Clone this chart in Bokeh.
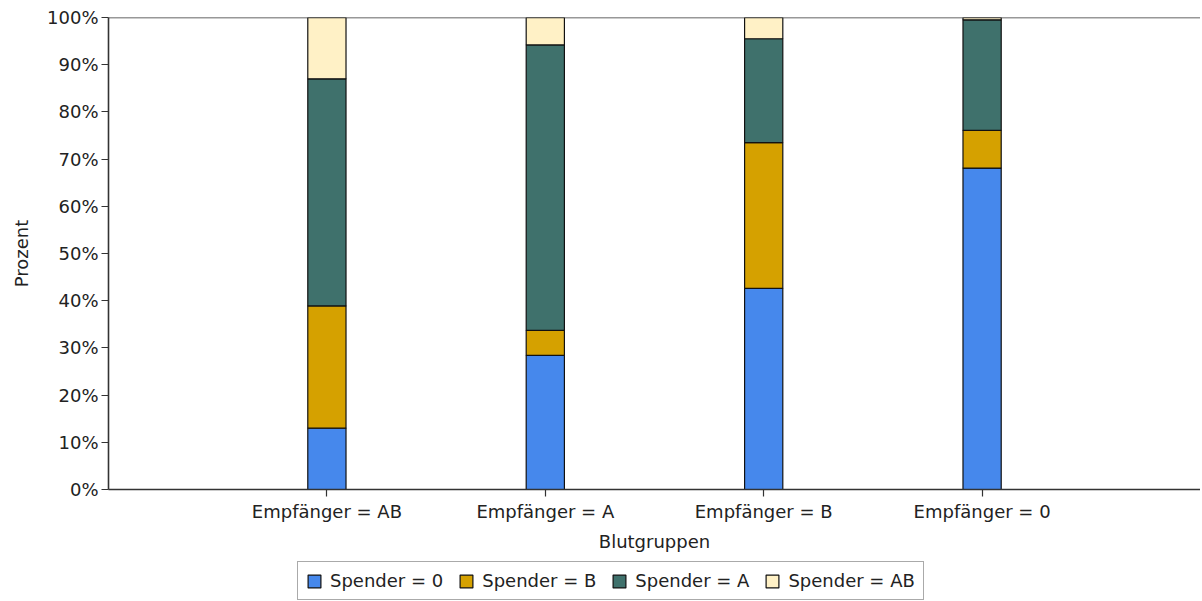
from bokeh.plotting import figure
from bokeh.layouts import column
from bokeh.models import (FactorRange, Legend, LegendItem, PrintfTickFormatter,
                          FixedTicker, Span, Range1d)
from bokeh.embed import file_html
from bokeh.resources import INLINE

# ---- data ----
empfaenger = ["Empfänger = AB", "Empfänger = A", "Empfänger = B", "Empfänger = 0"]
spender_0 = [13.0, 28.4, 42.6, 68.1]
spender_B = [25.9, 5.3, 30.9, 8.0]
spender_A = [48.1, 60.5, 22.0, 23.4]
spender_AB = [13.0, 5.8, 4.5, 0.5]
series_names = ["Spender = 0", "Spender = B", "Spender = A", "Spender = AB"]
series_keys = ["s0", "sB", "sA", "sAB"]
colors = ["#4688EC", "#D5A100", "#3F716C", "#FFF1C6"]
y_ticks = [0, 10, 20, 30, 40, 50, 60, 70, 80, 90, 100]

FONT = "DejaVu Sans"
FS = "18px"
data = dict(x=empfaenger, s0=spender_0, sB=spender_B, sA=spender_A, sAB=spender_AB)

p = figure(x_range=FactorRange(*empfaenger, range_padding=0.25, range_padding_units="percent"),
           y_range=Range1d(0, 100),
           width=1200, height=558, output_backend="svg", toolbar_location=None,
           min_border_left=108, min_border_right=0, min_border_top=17, min_border_bottom=69)

p.vbar_stack(series_keys, x="x", width=0.175, source=data,
             fill_color=colors, line_color="#111111", line_width=1.2)

p.xgrid.visible = False
p.ygrid.visible = False
p.outline_line_color = None
p.background_fill_color = "white"
p.border_fill_color = "white"

top_line = Span(location=100, dimension="width", line_color="#333333", line_width=1.6)
p.add_layout(top_line)

for ax in (p.xaxis[0], p.yaxis[0]):
    ax.axis_line_color = "#333333"
    ax.axis_line_width = 1.6
    ax.major_tick_line_color = "#333333"
    ax.major_tick_line_width = 1.2
    ax.major_tick_in = 0
    ax.major_tick_out = 7
    ax.minor_tick_line_color = None
    ax.major_label_text_font = FONT
    ax.major_label_text_font_size = FS
    ax.major_label_text_color = "#222222"
    ax.axis_label_text_font = FONT
    ax.axis_label_text_font_size = FS
    ax.axis_label_text_font_style = "normal"
    ax.axis_label_text_color = "#222222"

p.yaxis[0].ticker = FixedTicker(ticks=y_ticks)
p.yaxis[0].formatter = PrintfTickFormatter(format="%d%%")
p.yaxis[0].axis_label = "Prozent"
p.yaxis[0].major_label_standoff = 3
p.yaxis[0].axis_label_standoff = 12
p.xaxis[0].axis_label = "Blutgruppen"
p.xaxis[0].major_label_standoff = 4
p.xaxis[0].axis_label_standoff = 6

# ---- legend strip below the chart ----
lg = figure(x_range=FactorRange(*empfaenger), y_range=Range1d(1000, 1001),
            width=1200, height=43, output_backend="svg", toolbar_location=None,
            x_axis_type=None, y_axis_type=None,
            min_border_left=0, min_border_right=0, min_border_top=0, min_border_bottom=0)
lg.xgrid.visible = False
lg.ygrid.visible = False
lg.outline_line_color = None
lg.border_fill_color = "white"
lg_renderers = lg.vbar_stack(series_keys, x="x", width=0.175, source=data,
                             fill_color=colors, line_color="#111111", line_width=1.2)

items = [LegendItem(label=n, renderers=[r]) for n, r in zip(series_names, lg_renderers)]
legend = Legend(items=items, orientation="horizontal", location=(189, 1),
                label_text_font=FONT, label_text_font_size=FS, label_text_color="#222222",
                glyph_width=16, glyph_height=16, label_standoff=8, spacing=15,
                padding=8, margin=0, border_line_color="#555555", border_line_width=1,
                background_fill_alpha=1.0)
lg.add_layout(legend, "center")

layout = column(p, lg, spacing=0)
open("out.html", "w").write(file_html(layout, INLINE))
